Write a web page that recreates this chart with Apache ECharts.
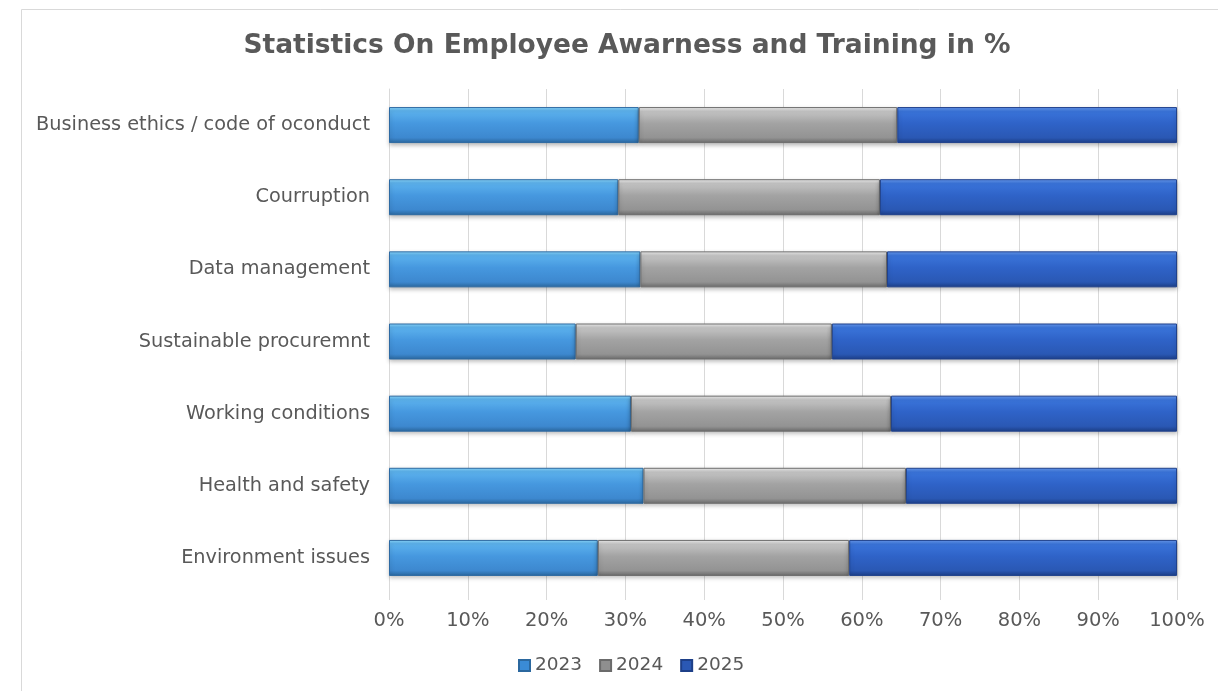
<!DOCTYPE html>
<html>
<head>
<meta charset="utf-8">
<script src="https://cdn.jsdelivr.net/npm/echarts@6/dist/echarts.min.js"></script>
<style>
  html, body { margin: 0; padding: 0; background: #fff; }
  #main { width: 1218px; height: 691px; }
</style>
</head>
<body>
<div id="main"></div>
<script>
// categories, listed bottom to top (category axis starts at the bottom)
var categories = [
  "Environment issues",
  "Health and safety",
  "Working conditions",
  "Sustainable procuremnt",
  "Data management",
  "Courruption",
  "Business ethics / code of oconduct"
];
// share per year in %
var data2023 = [26.5, 32.3, 30.7, 23.7, 31.9, 29.1, 31.7];
var data2024 = [31.9, 33.3, 33.0, 32.5, 31.3, 33.2, 32.8];
var data2025 = [41.6, 34.4, 36.3, 43.8, 36.8, 37.7, 35.5];
var xTicks = [0, 10, 20, 30, 40, 50, 60, 70, 80, 90, 100];

var font = "DejaVu Sans";

// bevel-like gradient for the bars
function grad(stops) {
  return new echarts.graphic.LinearGradient(0, 0, 0, 1, stops.map(function (s) {
    return { offset: s[0], color: s[1] };
  }));
}
var fill2023 = grad([[0, "#8fdcff"], [0.1, "#5db3ee"], [0.45, "#4698df"], [0.85, "#3d88cf"], [1, "#2b689f"]]);
var fill2024 = grad([[0, "#f2f2f2"], [0.12, "#c4c4c4"], [0.45, "#a3a3a3"], [0.85, "#939393"], [1, "#6b6b6b"]]);
var fill2025 = grad([[0, "#6a9cf2"], [0.12, "#3a74da"], [0.45, "#2f63c8"], [0.85, "#2a58b4"], [1, "#1d3f88"]]);

function makeSeries(name, values, fill, border) {
  return {
    name: name,
    type: "bar",
    stack: "total",
    barWidth: 36,
    data: values,
    itemStyle: {
      color: fill,
      borderColor: border,
      borderWidth: 1,
      shadowColor: "rgba(0,0,0,0.25)",
      shadowBlur: 4,
      shadowOffsetY: 2
    }
  };
}

var chart = echarts.init(document.getElementById("main"));
var option = {
  backgroundColor: "#fff",
  animation: false,
  graphic: [{
    type: "rect",
    shape: { x: 21.5, y: 9.5, width: 1400, height: 900 },
    style: { fill: "none", stroke: "#d9d9d9", lineWidth: 1 },
    silent: true
  }],
  title: {
    text: "Statistics On Employee Awarness and Training in %",
    left: 622,
    textAlign: "center",
    top: 28,
    textStyle: { fontFamily: font, fontSize: 26.5, fontWeight: "bold", color: "#595959" }
  },
  legend: {
    bottom: 11,
    left: 513,
    itemWidth: 11,
    itemHeight: 11,
    itemGap: 17,
    icon: "rect",
    textStyle: { fontFamily: font, fontSize: 18.5, color: "#595959" },
    data: [
      { name: "2023", itemStyle: { color: "#3a8bd6", borderColor: "#2b689f" } },
      { name: "2024", itemStyle: { color: "#8f8f8f", borderColor: "#6b6b6b" } },
      { name: "2025", itemStyle: { color: "#2a58b4", borderColor: "#1d3f88" } }
    ]
  },
  grid: { left: 389, right: 41, top: 89, bottom: 97 },
  xAxis: {
    type: "value",
    min: 0,
    max: 100,
    interval: 10,
    axisLine: { show: false },
    axisTick: { show: true, length: 6, lineStyle: { color: "#d9d9d9" } },
    splitLine: { show: true, lineStyle: { color: "#d9d9d9", width: 1 } },
    axisLabel: {
      margin: 17,
      fontFamily: font,
      fontSize: 19.5,
      color: "#595959",
      formatter: function (v) { return xTicks.indexOf(v) >= 0 ? v + "%" : ""; }
    }
  },
  yAxis: {
    type: "category",
    data: categories,
    axisLine: { show: true, lineStyle: { color: "#d9d9d9" } },
    axisTick: { show: false },
    axisLabel: { margin: 19, fontFamily: font, fontSize: 19.3, color: "#595959" }
  },
  series: [
    makeSeries("2023", data2023, fill2023, "#2d6aa3"),
    makeSeries("2024", data2024, fill2024, "#6e6e6e"),
    makeSeries("2025", data2025, fill2025, "#1f418c")
  ]
};
chart.setOption(option);
</script>
</body>
</html>
